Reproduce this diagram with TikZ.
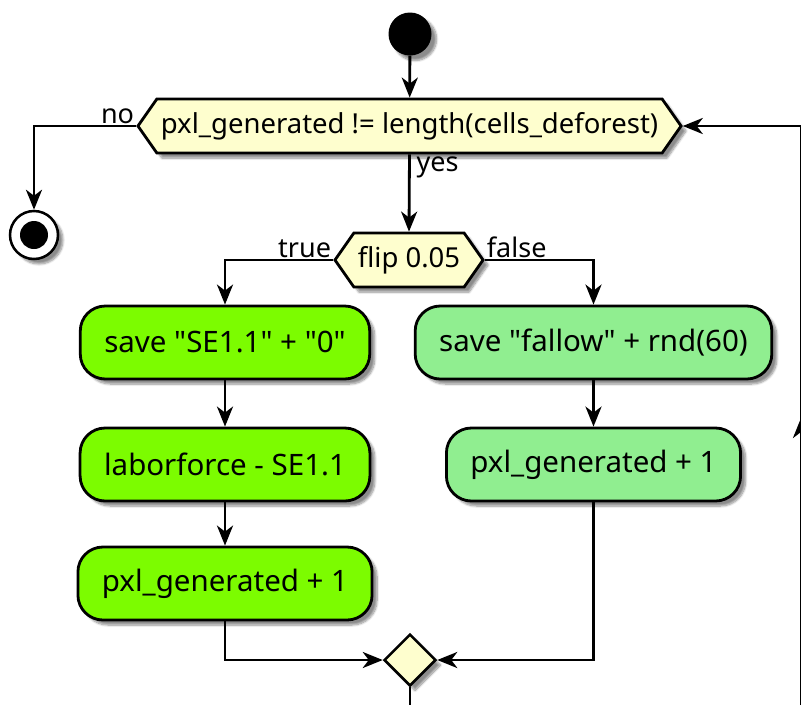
\documentclass[tikz,border=0pt]{standalone}
\usepackage{fontspec}
\setmainfont{Noto Sans}
\usetikzlibrary{arrows.meta,shapes.geometric,shapes.symbols,shadows.blur,decorations.markings}
\definecolor{condfill}{HTML}{FEFECE}
\definecolor{truefill}{HTML}{7CFC00}
\definecolor{falsefill}{HTML}{90EE90}

\begin{document}
\begin{tikzpicture}[x=1pt, y=-1pt,
    link/.style={line width=2.8pt},
    flow/.style={link, -{Stealth[length=20pt, width=16pt, inset=6pt]}},
    shade/.style={blur shadow={shadow xshift=5pt, shadow yshift=-5pt, shadow blur steps=8, shadow opacity=45}},
    act/.style={draw, line width=2.8pt, rounded corners=25pt, minimum height=73pt, inner xsep=24pt,
        font=\fontsize{29.5}{34}\selectfont, shade},
    cond/.style={draw, line width=2.8pt, fill=condfill, signal, signal to=west and east, signal pointer angle=110,
        minimum height=54pt, inner xsep=4pt, font=\fontsize{27.5}{32}\selectfont, shade},
    lbl/.style={font=\fontsize{27}{32}\selectfont, inner sep=2pt}]
    \useasboundingbox (0,0) rectangle (801,705);
    \clip (0,0) rectangle (801,705);
    \node[circle, fill=black, minimum size=43pt, inner sep=0pt, shade] (start) at (410,34) {};
    \node[cond] (loopcond) at (409.5,126) {pxl\_generated != length(cells\_deforest)};
    \node[circle, draw, fill=white, line width=2.5pt, minimum size=48pt, inner sep=0pt, shade] (endnode) at (34,235) {};
    \fill (endnode) circle (14);
    \node[cond] (flip) at (409,260) {flip 0.05};
    \node[act, fill=truefill] (saveSE) at (225,342.5) {save \textquotedbl SE1.1\textquotedbl{} + \textquotedbl 0\textquotedbl};
    \node[act, fill=truefill] (laborSE) at (225,464.5) {laborforce - SE1.1};
    \node[act, fill=truefill] (pxlA) at (225,583.5) {pxl\_generated + 1};
    \node[act, fill=falsefill] (saveFallow) at (593.5,342.5) {save \textquotedbl fallow\textquotedbl{} + rnd(60)};
    \node[act, fill=falsefill] (pxlB) at (593.5,464.5) {pxl\_generated + 1};
    \node[diamond, draw, fill=condfill, line width=2.5pt, minimum width=52pt, minimum height=52pt, inner sep=0pt, shade] (merge) at (410,660) {};
    \coordinate (bottomend) at (410,705);
    \coordinate (loopfoot) at (801,705); \coordinate (loopturn) at (801,126);
    % connectors
    \draw[flow] (start) -- (loopcond);
    \draw[flow] (loopcond.west) -| (endnode.north);
    \draw[flow] (loopcond.south) -- (flip.north);
    \draw[flow] (flip.west) -| (saveSE.north);
    \draw[flow] (flip.east) -| (saveFallow.north);
    \draw[flow] (saveSE) -- (laborSE);
    \draw[flow] (laborSE) -- (pxlA);
    \draw[flow] (saveFallow) -- (pxlB);
    \draw[flow] (pxlA.south) |- (merge.west);
    \draw[flow] (pxlB.south) |- (merge.east);
    \draw[link] (merge.south) -- (bottomend);
    \draw[link, postaction={decorate}, decoration={markings,
        mark=at position 287pt with {\arrow{Stealth[length=20pt, width=16pt, inset=6pt]}}}] (loopfoot) -- (loopturn);
    \draw[flow] (loopturn) -- (loopcond.east);
    \node[lbl, anchor=south east] at (loopcond.west) {no};
    \node[lbl, anchor=north west, xshift=5pt] at (loopcond.south) {yes};
    \node[lbl, anchor=south east] at (flip.west) {true};
    \node[lbl, anchor=south west] at (flip.east) {false};
\end{tikzpicture}
\end{document}
